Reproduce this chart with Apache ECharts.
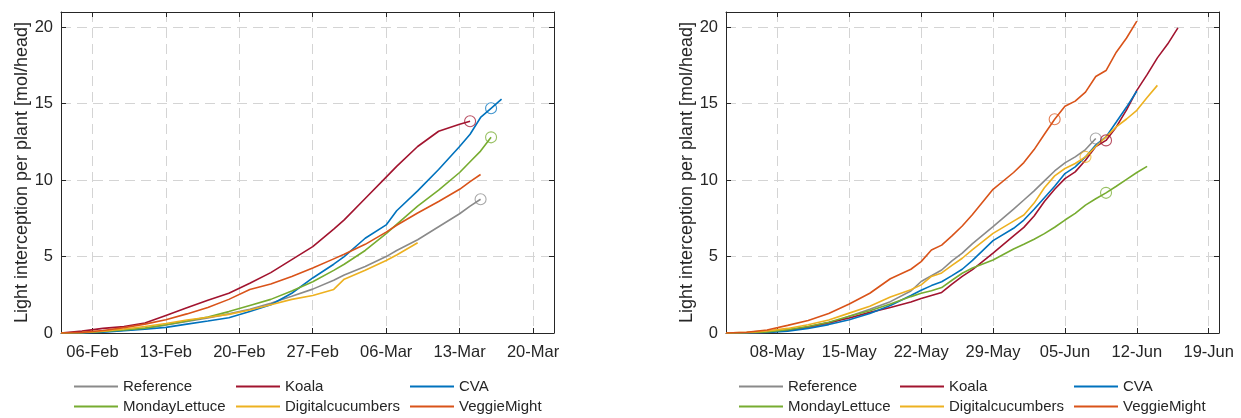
<!DOCTYPE html>
<html>
<head>
<meta charset="utf-8">
<script src="https://cdn.jsdelivr.net/npm/echarts@6/dist/echarts.min.js"></script>
<style>
  html, body { margin: 0; background: #fff; }
  #chart { width: 1241px; height: 418px; }
</style>
</head>
<body>
<div id="chart"></div>
<script>
const names = ['Reference', 'Koala', 'CVA', 'MondayLettuce', 'Digitalcucumbers', 'VeggieMight'];
const colors = ['#8a8a8a', '#a2142f', '#0072bd', '#77ac30', '#edb120', '#d95319'];

// left panel, day 0 = 06-Feb
const ticksFeb = [0, 7, 14, 21, 28, 35, 42];
const labelsFeb = ['06-Feb', '13-Feb', '20-Feb', '27-Feb', '06-Mar', '13-Mar', '20-Mar'];
const daysFeb = [-3, -1, 1, 3, 5, 7, 9, 11, 13, 15, 17, 19, 21, 23, 24, 26, 28, 29, 31, 33, 35, 36, 37, 38, 39];
const referenceFeb = [0, 0.02, 0.08, 0.18, 0.3, 0.52, 0.75, 0.98, 1.25, 1.55, 1.95, 2.4, 2.87, 3.45, 3.8, 4.35, 5.0, 5.4, 6.1, 6.95, 7.8, 8.3, 8.75, null, null];
const koalaFeb = [0, 0.12, 0.3, 0.42, 0.65, 1.15, 1.65, 2.15, 2.6, 3.25, 3.95, 4.8, 5.65, 6.8, 7.4, 8.8, 10.2, 10.9, 12.2, 13.2, 13.65, 13.85, null, null, null];
const cvaFeb = [0, 0.01, 0.06, 0.15, 0.25, 0.37, 0.58, 0.78, 1.0, 1.4, 1.85, 2.6, 3.6, 4.5, 5.0, 6.2, 7.07, 8.0, 9.3, 10.7, 12.2, 13.0, 14.1, 14.7, 15.3];
const mondayFeb = [0, 0.02, 0.1, 0.2, 0.32, 0.54, 0.78, 1.05, 1.4, 1.8, 2.2, 2.75, 3.35, 4.1, 4.5, 5.4, 6.5, 7.1, 8.3, 9.35, 10.5, 11.2, 11.9, 12.8, null];
const digitalFeb = [0, 0.03, 0.12, 0.26, 0.42, 0.62, 0.85, 1.03, 1.22, 1.5, 1.85, 2.2, 2.45, 2.85, 3.52, 4.1, 4.74, 5.1, 5.9, null, null, null, null, null, null];
const veggieFeb = [0, 0.04, 0.16, 0.35, 0.58, 0.87, 1.25, 1.67, 2.2, 2.85, 3.2, 3.7, 4.25, 4.85, 5.15, 5.8, 6.6, 7.05, 7.85, 8.6, 9.4, 9.9, 10.37, null, null];
const harvestFeb = [[37, 8.75], [36, 13.85], [38, 14.7], [38, 12.8], null, null];

// right panel, day 0 = 08-May
const ticksMay = [0, 7, 14, 21, 28, 35, 42];
const labelsMay = ['08-May', '15-May', '22-May', '29-May', '05-Jun', '12-Jun', '19-Jun'];
const daysMay = [-5, -3, -1, 1, 3, 5, 7, 9, 11, 13, 14, 15, 16, 17, 18, 19, 21, 23, 24, 25, 26, 27, 28, 29, 30, 31, 32, 33, 34, 35, 36, 37, 38, 39];
const referenceMay = [0, 0.02, 0.06, 0.18, 0.35, 0.6, 1.09, 1.55, 2.05, 2.75, 3.37, 3.75, 4.12, 4.72, 5.22, 5.85, 6.96, 8.1, 8.7, 9.3, 9.95, 10.6, 11.13, 11.52, 12.0, 12.72, null, null, null, null, null, null, null, null];
const koalaMay = [0, 0.01, 0.05, 0.17, 0.4, 0.68, 0.98, 1.35, 1.67, 2.03, 2.25, 2.45, 2.65, 3.2, 3.7, 4.15, 5.22, 6.35, 6.91, 7.65, 8.6, 9.4, 10.1, 10.54, 11.3, 12.2, 12.6, 13.48, 14.6, 15.87, 16.9, 18.0, 18.9, 19.96];
const cvaMay = [0, 0.01, 0.04, 0.12, 0.3, 0.55, 0.87, 1.27, 1.8, 2.45, 2.8, 3.1, 3.35, 3.75, 4.17, 4.75, 6.04, 6.85, 7.39, 8.1, 8.85, 9.6, 10.43, 10.87, 11.52, 12.3, 12.83, 13.8, 14.78, 15.83, null, null, null, null];
const mondayMay = [0, 0.02, 0.07, 0.22, 0.43, 0.7, 1.09, 1.45, 1.9, 2.38, 2.6, 2.77, 2.97, 3.45, 3.91, 4.25, 4.78, 5.5, 5.8, 6.13, 6.5, 6.92, 7.39, 7.83, 8.37, 8.78, 9.17, 9.6, 10.05, 10.5, 10.9, null, null, null];
const digitalMay = [0, 0.04, 0.14, 0.3, 0.54, 0.85, 1.3, 1.75, 2.35, 2.83, 3.15, 3.7, 3.93, 4.42, 4.89, 5.45, 6.52, 7.32, 7.72, 8.5, 9.5, 10.28, 10.76, 11.09, 11.52, 12.2, 12.83, 13.48, 14.0, 14.57, 15.4, 16.2, null, null];
const veggieMay = [0, 0.05, 0.2, 0.5, 0.82, 1.27, 1.9, 2.6, 3.55, 4.17, 4.67, 5.43, 5.75, 6.35, 7.0, 7.75, 9.4, 10.5, 11.15, 12.0, 13.0, 13.98, 14.83, 15.17, 15.76, 16.78, 17.17, 18.37, 19.3, 20.4, null, null, null, null];
const harvestMay = [[31, 12.72], [32, 12.6], null, [32, 9.17], [30, 11.52], [27, 13.98]];

const yTicks = [0, 5, 10, 15, 20];

const FONT = 'Liberation Sans, Arial, Helvetica, sans-serif';
const INK = '#262626';
const GRID = {color: '#d4d4d4', type: [10, 6], width: 1};

let chart = echarts.init(document.getElementById('chart'));

function xAxis(gridIndex, min, max, ticks, labels, top) {
  return {
    type: 'value', gridIndex, min, max, position: top ? 'top' : 'bottom',
    axisLine: {show: true, onZero: false, lineStyle: {color: INK, width: 1}},
    axisTick: {show: true, inside: true, length: 5, lineStyle: {color: INK}, customValues: ticks},
    axisLabel: {
      show: !top, customValues: ticks, margin: 11, color: INK, fontSize: 16.5, fontFamily: FONT,
      formatter: v => labels[ticks.indexOf(v)] || ''
    },
    splitLine: {show: !top, lineStyle: GRID}
  };
}

function yAxis(gridIndex, right) {
  return {
    type: 'value', gridIndex, min: 0, max: 21, position: right ? 'right' : 'left',
    name: right ? '' : 'Light interception per plant [mol/head]',
    nameLocation: 'middle', nameGap: 30,
    nameTextStyle: {color: INK, fontSize: 18, fontFamily: FONT},
    axisLine: {show: true, onZero: false, lineStyle: {color: INK, width: 1}},
    axisTick: {show: true, inside: true, length: 5, lineStyle: {color: INK}, customValues: yTicks},
    axisLabel: {show: !right, customValues: yTicks, margin: 8, color: INK, fontSize: 16.5, fontFamily: FONT},
    splitLine: {show: !right, lineStyle: GRID}
  };
}

function lines(days, sets, axis) {
  return sets.map((vals, i) => ({
    name: names[i], type: 'line', xAxisIndex: axis, yAxisIndex: axis,
    data: days.map((d, k) => [d, vals[k]]).filter(p => p[1] != null),
    symbol: 'none', showSymbol: false,
    lineStyle: {width: 1.6, color: colors[i]}, itemStyle: {color: colors[i]}
  }));
}

function harvest(points, axis) {
  const out = [];
  points.forEach((p, i) => {
    if (!p) return;
    out.push({
      name: names[i] + ' harvest', type: 'scatter', xAxisIndex: axis, yAxisIndex: axis,
      data: [p], symbol: 'circle', symbolSize: 11, z: 3,
      itemStyle: {color: 'rgba(0,0,0,0)', borderColor: colors[i], borderWidth: 1.1, opacity: 0.75}
    });
  });
  return out;
}

const legendCols = [[74, 236, 410], [739, 900, 1074]];
const legendRows = [379, 399];
const legends = [];
legendCols.forEach(cols => {
  names.forEach((n, i) => {
    legends.push({
      data: [n], left: cols[i % 3], top: legendRows[Math.floor(i / 3)],
      padding: 0, icon: 'rect', itemWidth: 44, itemHeight: 2, selectedMode: false,
      textStyle: {color: INK, fontSize: 15, fontFamily: FONT}
    });
  });
});

chart.setOption({
  animation: false,
  backgroundColor: '#fff',
  grid: [
    {left: 61, top: 12, width: 493, height: 321},
    {left: 726, top: 12, width: 493, height: 321}
  ],
  xAxis: [
    xAxis(0, -3, 44, ticksFeb, labelsFeb, false),
    xAxis(1, -5, 43, ticksMay, labelsMay, false),
    xAxis(0, -3, 44, ticksFeb, labelsFeb, true),
    xAxis(1, -5, 43, ticksMay, labelsMay, true)
  ],
  yAxis: [yAxis(0, false), yAxis(1, false), yAxis(0, true), yAxis(1, true)],
  legend: legends,
  series: [
    ...lines(daysFeb, [referenceFeb, koalaFeb, cvaFeb, mondayFeb, digitalFeb, veggieFeb], 0),
    ...lines(daysMay, [referenceMay, koalaMay, cvaMay, mondayMay, digitalMay, veggieMay], 1),
    ...harvest(harvestFeb, 0),
    ...harvest(harvestMay, 1)
  ]
});
</script>
</body>
</html>
